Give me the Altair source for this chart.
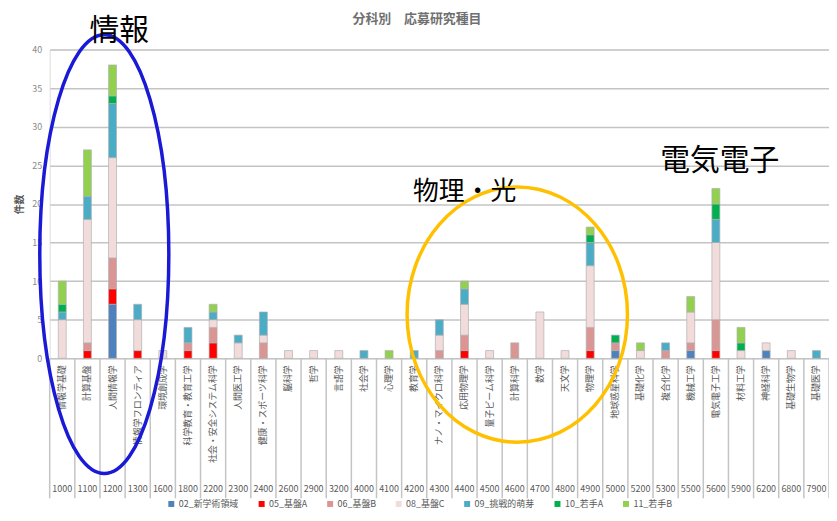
import altair as alt
import pandas as pd

# ---------------- data ----------------
codes = ["1000", "1100", "1200", "1300", "1600", "1800", "2200", "2300", "2400", "2600",
         "2900", "3200", "4000", "4100", "4200", "4300", "4400", "4500", "4600", "4700",
         "4800", "4900", "5000", "5200", "5300", "5500", "5600", "5900", "6200", "6800", "7900"]
names = ["情報学基礎", "計算基盤", "人間情報学", "情報学フロンティア", "環境創成学",
         "科学教育・教育工学", "社会・安全システム科学", "人間医工学", "健康・スポーツ科学", "脳科学",
         "哲学", "言語学", "社会学", "心理学", "教育学",
         "ナノ・マイクロ科学", "応用物理学", "量子ビーム科学", "計算科学", "数学",
         "天文学", "物理学", "地球惑星科学", "基礎化学", "複合化学",
         "機械工学", "電気電子工学", "材料工学", "神経科学", "基礎生物学", "基礎医学"]

types = ["02_新学術領域", "05_基盤A", "06_基盤B", "08_基盤C", "09_挑戦的萌芽", "10_若手A", "11_若手B"]
colors = ["#4F81BD", "#FF0000", "#D99694", "#F2DCDB", "#4BACC6", "#00B050", "#92D050"]

v02 = [0, 0, 7, 0, 0, 0, 0, 0, 0, 0, 0, 0, 0, 0, 0, 0, 0, 0, 0, 0, 0, 0, 1, 0, 0, 1, 0, 0, 1, 0, 0]
v05 = [0, 1, 2, 1, 0, 1, 2, 0, 0, 0, 0, 0, 0, 0, 0, 0, 1, 0, 0, 0, 0, 1, 0, 0, 0, 0, 1, 0, 0, 0, 0]
v06 = [0, 1, 4, 0, 0, 1, 2, 0, 2, 0, 0, 0, 0, 0, 0, 1, 2, 0, 2, 0, 0, 3, 1, 0, 1, 1, 4, 0, 0, 0, 0]
v08 = [5, 16, 13, 4, 1, 0, 1, 2, 1, 1, 1, 1, 0, 0, 0, 2, 4, 1, 0, 6, 1, 8, 0, 1, 0, 4, 10, 1, 1, 1, 0]
v09 = [1, 3, 7, 2, 0, 2, 1, 1, 3, 0, 0, 0, 1, 0, 1, 2, 2, 0, 0, 0, 0, 3, 0, 0, 1, 0, 3, 0, 0, 0, 1]
v10 = [1, 0, 1, 0, 0, 0, 0, 0, 0, 0, 0, 0, 0, 0, 0, 0, 0, 0, 0, 0, 0, 1, 1, 0, 0, 0, 2, 1, 0, 0, 0]
v11 = [3, 6, 4, 0, 0, 0, 1, 0, 0, 0, 0, 0, 0, 1, 0, 0, 1, 0, 0, 0, 0, 1, 0, 1, 0, 2, 2, 2, 0, 0, 0]
series = [v02, v05, v06, v08, v09, v10, v11]

y_ticks = [0, 5, 10, 15, 20, 25, 30, 35, 40]

chart_title = "分科別　応募研究種目"
y_title = "件数"
notes = ["情報", "物理・光", "電気電子"]

# ---------------- tables ----------------
rows = []
for k, (t, vals) in enumerate(zip(types, series)):
    for c, n, v in zip(codes, names, vals):
        if v > 0:
            rows.append({"code": c, "name": n, "type": t, "count": v, "ord": k})
df = pd.DataFrame(rows)
cats = pd.DataFrame({"code": codes, "name": names})
last = pd.DataFrame({"code": [codes[-1]]})

W, H = 785, 311
FONT = "Noto Sans CJK JP"
GRID = "#c4c4c4"
TXT = "#595959"

xenc = alt.X("code:N", sort=codes, axis=None,
             scale=alt.Scale(paddingInner=0, paddingOuter=0))

bars = alt.Chart(df).mark_bar(size=8, stroke="#b0b0b0", strokeWidth=0.7).encode(
    x=xenc,
    y=alt.Y("count:Q", stack="zero",
            scale=alt.Scale(domain=[0, 40]),
            axis=alt.Axis(values=y_ticks, title=y_title, grid=True, gridColor=GRID,
                          gridWidth=1.5, domain=False, ticks=False,
                          labelFontSize=9, labelColor="#8a8a8a", labelFont=FONT,
                          labelPadding=8, titleFont=FONT, titleFontSize=10,
                          titleColor=TXT, titleFontWeight="bold", titlePadding=7)),
    color=alt.Color("type:N", sort=types,
                    scale=alt.Scale(domain=types, range=colors),
                    legend=alt.Legend(title=None, orient="none", direction="horizontal",
                                      legendX=118, legendY=453, symbolType="square",
                                      symbolSize=36, symbolStrokeWidth=0,
                                      labelFontSize=9, labelColor=TXT, labelFont=FONT,
                                      columnPadding=18, labelOffset=3)),
    order=alt.Order("ord:Q", sort="ascending"),
)

seps = alt.Chart(cats).mark_rule(color=GRID, strokeWidth=1.5).encode(
    x=alt.X("code:N", sort=codes, axis=None, bandPosition=0),
    y=alt.value(H), y2=alt.value(H + 141),
)
sep_end = alt.Chart(last).mark_rule(color=GRID, strokeWidth=1.5).encode(
    x=alt.X("code:N", sort=codes, axis=None, bandPosition=1),
    y=alt.value(H), y2=alt.value(H + 141),
)

name_txt = alt.Chart(cats).mark_text(angle=270, align="right", baseline="middle",
                                      fontSize=9, color=TXT, font=FONT).encode(
    x=xenc, y=alt.value(H + 7), text="name:N")

code_txt = alt.Chart(cats).mark_text(fontSize=9, color=TXT, font=FONT, baseline="middle").encode(
    x=xenc, y=alt.value(H + 132), text="code:N")

title_txt = alt.Chart(pd.DataFrame({"t": [chart_title]})).mark_text(
    fontSize=13, color="#707070", font=FONT, fontWeight="bold", baseline="middle").encode(
    x=alt.value(370), y=alt.value(-31), text="t:N")


def ellipse_path(rx, ry):
    k = 0.5523
    a, b = rx, ry
    return (f"M {a} 0 C {a} {b*k} {a*k} {b} 0 {b} "
            f"C {-a*k} {b} {-a} {b*k} {-a} 0 "
            f"C {-a} {-b*k} {-a*k} {-b} 0 {-b} "
            f"C {a*k} {-b} {a} {-b*k} {a} 0 Z")


ann_df = pd.DataFrame({"a": [0]})
blue_ell = alt.Chart(ann_df).mark_point(
    shape=ellipse_path(65 / 221, 1), size=442 ** 2, filled=False,
    stroke="#1a1ad6", strokeWidth=3.5, opacity=1).encode(
    x=alt.value(55), y=alt.value(206))
orange_ell = alt.Chart(ann_df).mark_point(
    shape=ellipse_path(111 / 128.5, 1), size=257 ** 2, filled=False,
    stroke="#FFC000", strokeWidth=3.5, opacity=1).encode(
    x=alt.value(471), y=alt.value(267))

note_df = pd.DataFrame({"t": notes})
note1 = alt.Chart(note_df[note_df.t == notes[0]]).mark_text(
    fontSize=30, color="black", font=FONT, baseline="middle").encode(
    x=alt.value(70), y=alt.value(-19), text="t:N")
note2 = alt.Chart(note_df[note_df.t == notes[1]]).mark_text(
    fontSize=26, color="black", font=FONT, baseline="middle").encode(
    x=alt.value(418), y=alt.value(144), text="t:N")
note3 = alt.Chart(note_df[note_df.t == notes[2]]).mark_text(
    fontSize=30, color="black", font=FONT, baseline="middle").encode(
    x=alt.value(675), y=alt.value(112), text="t:N")

chart = alt.layer(
    seps, sep_end, bars, name_txt, code_txt, title_txt,
    blue_ell, orange_ell, note1, note2, note3
).properties(
    width=W, height=H,
    autosize=alt.AutoSizeParams(type="none"),
    padding={"left": 42, "top": 40, "right": 0, "bottom": 154},
).configure_view(stroke=None).configure(font=FONT)

chart.save("out.html", embed_options={"renderer": "svg", "actions": False})
